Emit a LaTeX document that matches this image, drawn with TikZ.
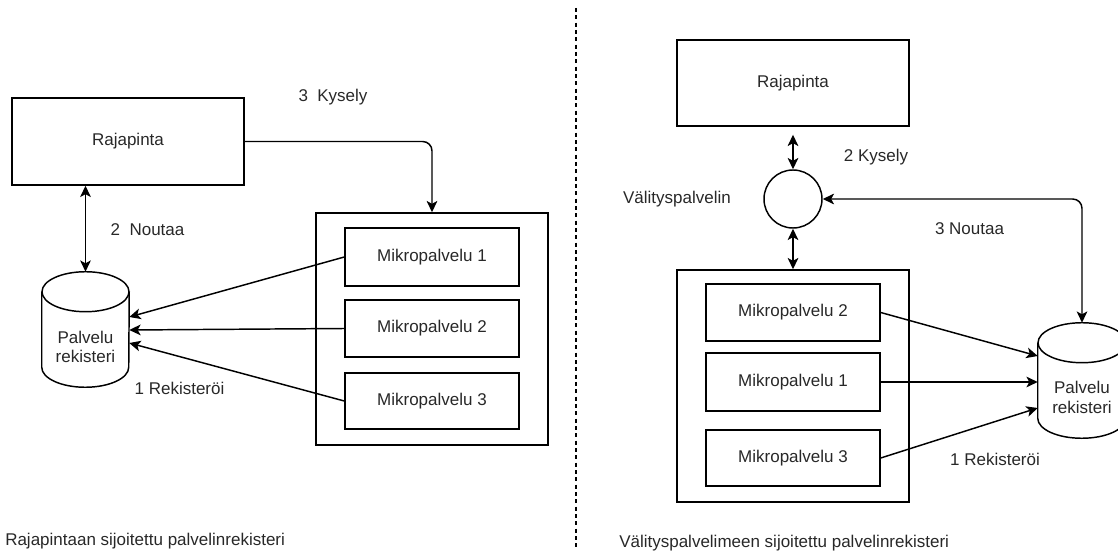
\documentclass[tikz,border=0pt]{standalone}
\usepackage{fontspec}
\setmainfont{Liberation Sans}
\usetikzlibrary{arrows.meta,calc}
\definecolor{txt}{RGB}{40,40,40}
\begin{document}
\begin{tikzpicture}[x=0.75pt,y=-0.75pt,
  every node/.style={font=\fontsize{12.75pt}{14.6pt}\selectfont, text=txt},
  box/.style={draw, line width=1.1pt, inner sep=0pt, align=center},
  lbl/.style={inner sep=0pt, align=center},
  conn/.style={line width=1.1pt, -{Stealth[length=8.5pt,width=8pt,inset=2.2pt]}},
  dconn/.style={line width=1.1pt, {Stealth[length=8.5pt,width=8pt,inset=2.2pt]}-{Stealth[length=8.5pt,width=8pt,inset=2.2pt]}},
  cyl/.style={inner sep=0pt, minimum width=66pt, minimum height=86.25pt}
]
\useasboundingbox (0,0) rectangle (1118,552);
\clip (0,0) rectangle (1118,552);

% ---------- left ----------
\node[box, minimum width=174pt, minimum height=65.25pt] (rajL) at (128,141.5) {Rajapinta};
\node[box, minimum width=174pt, minimum height=174pt] (outL) at (432,329) {};
\node[box, minimum width=130.5pt, minimum height=43.5pt] (m1L) at (432,257) {Mikropalvelu 1};
\node[box, minimum width=130.5pt, minimum height=42.75pt] (m2L) at (432,328.5) {Mikropalvelu 2};
\node[box, minimum width=130.5pt, minimum height=42pt] (m3L) at (432,401) {Mikropalvelu 3};

\node[cyl, minimum width=65.25pt] (cylL) at (85.5,329.5) {};
\draw[line width=1.1pt, fill=white] ($(cylL.north west)+(0,20)$) -- ($(cylL.south west)+(0,-20)$)
  arc[start angle=180, end angle=0, x radius=43.5, y radius=20] -- ($(cylL.north east)+(0,20)$);
\draw[line width=1.1pt] ($(cylL.north)+(0,20)$) ellipse [x radius=43.5, y radius=20];
\node[lbl] (cylLt) at (85.5,347) {Palvelu\\rekisteri};

\draw[conn, rounded corners=7pt] (rajL.east) -| (outL.north);
\draw[dconn] (cylL.north |- rajL.south) -- (cylL.north);
\draw[conn] (m1L.west) -- ($(cylL.east)+(0,-12.5)$);
\draw[conn] (m2L.west) -- ($(cylL.east)+(0,0.5)$);
\draw[conn] (m3L.west) -- ($(cylL.east)+(0,13.5)$);

\node[lbl] (kysL) at (333,97) {3\ \ Kysely};
\node[lbl] (noutL) at (147.5,230) {2\ \ Noutaa};
\node[lbl] (rekL) at (179.5,388) {1 Rekisteröi};
\node[lbl, anchor=west] (capL) at (5,541) {Rajapintaan sijoitettu palvelinrekisteri};

% ---------- divider ----------
\coordinate (divT) at (576,8);
\coordinate (divB) at (576,548);
\draw[line width=1pt, dash pattern=on 3pt off 2.5pt] (divT) -- (divB);

% ---------- right ----------
\node[box, minimum width=174pt, minimum height=64.5pt] (rajR) at (793,83) {Rajapinta};
\node[box, circle, minimum size=43.5pt] (circR) at (793,199) {};
\node[box, minimum width=174pt, minimum height=174pt] (outR) at (793,386) {};
\node[box, minimum width=130.5pt, minimum height=42.75pt] (m2R) at (793,312.5) {Mikropalvelu 2};
\node[box, minimum width=130.5pt, minimum height=43.5pt] (m1R) at (793,382) {Mikropalvelu 1};
\node[box, minimum width=130.5pt, minimum height=42pt] (m3R) at (793,458) {Mikropalvelu 3};

\node[cyl] (cylR) at (1082,380.5) {};
\draw[line width=1.1pt, fill=white] ($(cylR.north west)+(0,20)$) -- ($(cylR.south west)+(0,-20)$)
  arc[start angle=180, end angle=0, x radius=44, y radius=20] -- ($(cylR.north east)+(0,20)$);
\draw[line width=1.1pt] ($(cylR.north)+(0,20)$) ellipse [x radius=44, y radius=20];
\node[lbl] (cylRt) at (1082,397.5) {Palvelu\\rekisteri};

\draw[dconn] ($(rajR.south)+(0,8)$) -- (circR.north);
\draw[dconn] (circR.south) -- (outR.north);
\draw[dconn, rounded corners=7pt] (circR.east) -| (cylR.north);
\draw[conn] (m2R.east) -- ($(cylR.west)+(0,-24.5)$);
\draw[conn] (m1R.east) -- ($(cylR.west)+(0,1.5)$);
\draw[conn] (m3R.east) -- ($(cylR.west)+(0,27.5)$);

\node[lbl] (kysR) at (876,157) {2 Kysely};
\node[lbl] (valR) at (677,199) {Välityspalvelin};
\node[lbl] (noutR) at (969.5,229) {3 Noutaa};
\node[lbl] (rekR) at (995,459) {1 Rekisteröi};
\node[lbl, anchor=west] (capR) at (619,543) {Välityspalvelimeen sijoitettu palvelinrekisteri};
\end{tikzpicture}
\end{document}
